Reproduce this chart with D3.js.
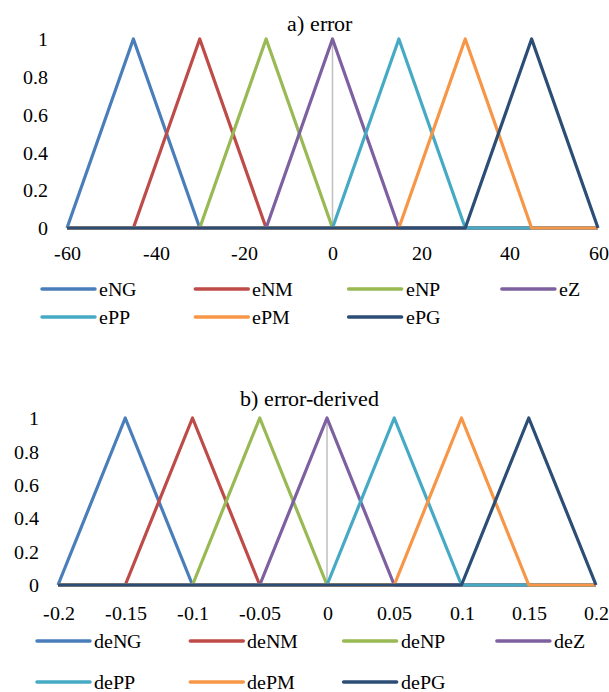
<!DOCTYPE html>
<html>
<head>
<meta charset="utf-8">
<script src="https://cdn.jsdelivr.net/npm/d3@7"></script>
<style>
  @font-face { font-family: "ChartSerif"; src: local("Liberation Serif"), local("LiberationSerif"), local("Liberation Serif Regular"), local("LiberationSerif-Regular"); }
  body { margin: 0; }
  #chart text { font-family: "ChartSerif", "Liberation Serif", serif; }
</style>
</head>
<body>
<svg id="chart" width="609" height="692"></svg>
<script>
// ---------- data ----------
const yTicks = [0, 0.2, 0.4, 0.6, 0.8, 1];
const colors = ["#4A7EBB", "#BE4B48", "#98B954", "#7D60A0", "#46AAC5", "#F79646", "#2C4D75"];

// a) error
const errTitle = "a) error";
const errTicks = [-60, -40, -20, 0, 20, 40, 60];
const errNames = ["eNG", "eNM", "eNP", "eZ", "ePP", "ePM", "ePG"];
const errX = [
  [-60, -45, -30, 60],
  [-60, -45, -30, -15, 60],
  [-60, -30, -15, 0, 60],
  [-60, -15, 0, 15, 60],
  [-60, 0, 15, 30, 60],
  [-60, 15, 30, 45, 60],
  [-60, 30, 45, 60]
];
const errY = [
  [0, 1, 0, 0],
  [0, 0, 1, 0, 0],
  [0, 0, 1, 0, 0],
  [0, 0, 1, 0, 0],
  [0, 0, 1, 0, 0],
  [0, 0, 1, 0, 0],
  [0, 0, 1, 0]
];

// b) error-derived
const derTitle = "b) error-derived";
const derTicks = [-0.2, -0.15, -0.1, -0.05, 0, 0.05, 0.1, 0.15, 0.2];
const derNames = ["deNG", "deNM", "deNP", "deZ", "dePP", "dePM", "dePG"];
const derX = [
  [-0.2, -0.15, -0.1, 0.2],
  [-0.2, -0.15, -0.1, -0.05, 0.2],
  [-0.2, -0.1, -0.05, 0, 0.2],
  [-0.2, -0.05, 0, 0.05, 0.2],
  [-0.2, 0, 0.05, 0.1, 0.2],
  [-0.2, 0.05, 0.1, 0.15, 0.2],
  [-0.2, 0.1, 0.15, 0.2]
];
const derY = [
  [0, 1, 0, 0],
  [0, 0, 1, 0, 0],
  [0, 0, 1, 0, 0],
  [0, 0, 1, 0, 0],
  [0, 0, 1, 0, 0],
  [0, 0, 1, 0, 0],
  [0, 0, 1, 0]
];

// ---------- drawing ----------
const svg = d3.select("#chart");
const fmt = d => String(d);

function serif(sel, size) {
  sel.attr("font-family", "Liberation Serif").attr("font-size", size).attr("fill", "#000");
}

function drawPanel(cfg) {
  const x = d3.scaleLinear().domain(cfg.xDomain).range([cfg.x0, cfg.x1]);
  const y = d3.scaleLinear().domain([0, 1]).range([cfg.y0, cfg.y1]);

  // title
  svg.append("text")
    .attr("x", cfg.titleX).attr("y", cfg.titleY)
    .attr("text-anchor", "middle")
    .call(serif, 22)
    .text(cfg.title);

  // y axis (labels only)
  const ya = svg.append("g")
    .attr("transform", `translate(${cfg.yLabelX},0)`)
    .call(d3.axisLeft(y).tickValues(yTicks).tickSize(0).tickPadding(0).tickFormat(fmt));
  ya.attr("font-family", "Liberation Serif").attr("font-size", 20);
  ya.select(".domain").remove();
  ya.selectAll("text").call(serif, 20).attr("dy", "0.33em");

  // x axis (labels only)
  const xa = svg.append("g")
    .attr("transform", `translate(0,${cfg.xLabelY})`)
    .call(d3.axisBottom(x).tickValues(cfg.xTicks).tickSize(0).tickPadding(0).tickFormat(fmt));
  xa.attr("font-family", "Liberation Serif").attr("font-size", 20);
  xa.select(".domain").remove();
  xa.selectAll("text").call(serif, 20).attr("dy", "0");

  // zero vertical gray axis
  svg.append("line")
    .attr("x1", x(0)).attr("x2", x(0))
    .attr("y1", y(0)).attr("y2", y(1))
    .attr("stroke", "#BFBFBF").attr("stroke-width", 1.5);

  // series
  const line = d3.line().x(d => x(d[0])).y(d => y(d[1]));
  cfg.xs.forEach((xs, i) => {
    const pts = xs.map((v, j) => [v, cfg.ys[i][j]]);
    svg.append("path").datum(pts)
      .attr("d", line)
      .attr("fill", "none")
      .attr("stroke", colors[i])
      .attr("stroke-width", 3.2)
      .attr("stroke-linejoin", "round");
  });

  // legend
  cfg.names.forEach((name, i) => {
    const col = i % 4, row = Math.floor(i / 4);
    const lx = cfg.legX + col * cfg.legDX;
    const ly = cfg.legY + row * cfg.legDY;
    svg.append("line")
      .attr("x1", lx).attr("x2", lx + 53)
      .attr("y1", ly).attr("y2", ly)
      .attr("stroke", colors[i]).attr("stroke-width", 3.5)
      .attr("stroke-linecap", "round");
    svg.append("text")
      .attr("x", lx + 57).attr("y", ly + 6.5)
      .call(serif, 20)
      .text(name);
  });
}

drawPanel({
  title: errTitle, titleX: 319, titleY: 31,
  xDomain: [-60, 60], x0: 67, x1: 598, y0: 228, y1: 39,
  xTicks: errTicks, xLabelY: 260, yLabelX: 48,
  xs: errX, ys: errY, names: errNames,
  legX: 42, legY: 289, legDX: 153.3, legDY: 28
});

drawPanel({
  title: derTitle, titleX: 309, titleY: 406,
  xDomain: [-0.2, 0.2], x0: 58, x1: 596, y0: 585, y1: 418,
  xTicks: derTicks, xLabelY: 620, yLabelX: 39,
  xs: derX, ys: derY, names: derNames,
  legX: 37, legY: 641, legDX: 153.3, legDY: 41
});
</script>
</body>
</html>
